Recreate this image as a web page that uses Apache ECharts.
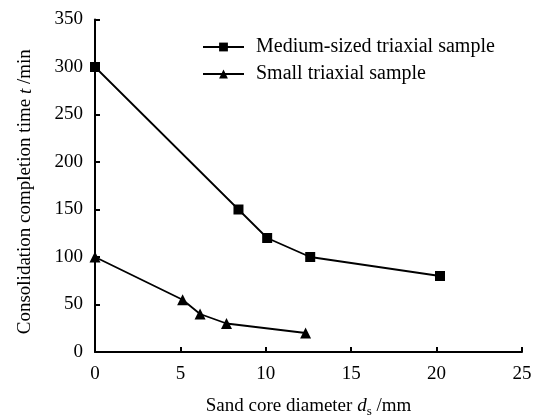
<!DOCTYPE html>
<html><head><meta charset="utf-8">
<script src="https://cdn.jsdelivr.net/npm/echarts@6/dist/echarts.min.js"></script>
<style>html,body{margin:0;padding:0;background:#fff}#c{width:538px;height:416px}</style>
</head><body><div id="c"></div>
<script>
var mediumX = [0, 8.4, 10.08, 12.6, 20.2];
var mediumY = [300, 150, 120, 100, 80];
var smallX = [0, 5.13, 6.15, 7.7, 12.33];
var smallY = [100, 55, 40, 30, 20];
var seriesNames = ['Medium-sized triaxial sample', 'Small triaxial sample'];

var FONT = '"Liberation Serif", "Times New Roman", serif';
function pairs(xs, ys){ return xs.map(function(x,i){return [x, ys[i]];}); }
var chart = echarts.init(document.getElementById('c'), null, {renderer:'canvas'});
chart.setOption({
  animation:false,
  textStyle:{fontFamily:FONT, color:'#000'},
  grid:{left:95, right:16, top:19.5, bottom:64, containLabel:false, outerBoundsMode:'none'},
  legend:{
    orient:'vertical', left:197, top:32, itemWidth:41, itemHeight:11, itemGap:7,
    data:seriesNames,
    textStyle:{fontFamily:FONT, fontSize:20, color:'#000', padding:[0,0,0,7]}
  },
  xAxis:{
    type:'value', min:0, max:25, interval:5,
    axisLine:{lineStyle:{color:'#000', width:2}},
    axisTick:{inside:true, length:5, lineStyle:{color:'#000', width:2}},
    axisLabel:{fontFamily:FONT, fontSize:19, color:'#000', margin:13},
    splitLine:{show:false},
    name:'{n|Sand core diameter }{i|d}{sub|s}{n| /mm}',
    nameLocation:'middle', nameGap:42, nameMoveOverlap:false,
    nameTextStyle:{rich:{
      n:{fontFamily:FONT, fontSize:19, color:'#000', lineHeight:24, verticalAlign:'middle'},
      i:{fontFamily:FONT, fontSize:19, fontStyle:'italic', color:'#000', lineHeight:24, verticalAlign:'middle'},
      sub:{fontFamily:FONT, fontSize:13, color:'#000', lineHeight:24, verticalAlign:'bottom'}
    }}
  },
  yAxis:{
    type:'value', min:0, max:350, interval:50,
    axisLine:{show:true, lineStyle:{color:'#000', width:2}},
    axisTick:{show:true, inside:true, length:5, lineStyle:{color:'#000', width:2}},
    axisLabel:{fontFamily:FONT, fontSize:19, color:'#000', margin:12},
    splitLine:{show:false},
    name:'{n|Consolidation completion time }{i|t}{n| /min}',
    nameLocation:'middle', nameGap:60, nameMoveOverlap:false,
    nameTextStyle:{padding:[0,12,0,0], rich:{
      n:{fontFamily:FONT, fontSize:19, color:'#000'},
      i:{fontFamily:FONT, fontSize:19, fontStyle:'italic', color:'#000'}
    }}
  },
  series:[
    {name:seriesNames[0], type:'line', data:pairs(mediumX, mediumY),
     symbol:'rect', symbolSize:10, lineStyle:{color:'#000', width:1.8},
     itemStyle:{color:'#000'}},
    {name:seriesNames[1], type:'line', data:pairs(smallX, smallY),
     symbol:'triangle', symbolSize:11, lineStyle:{color:'#000', width:1.8},
     itemStyle:{color:'#000'}}
  ]
});
</script></body></html>
